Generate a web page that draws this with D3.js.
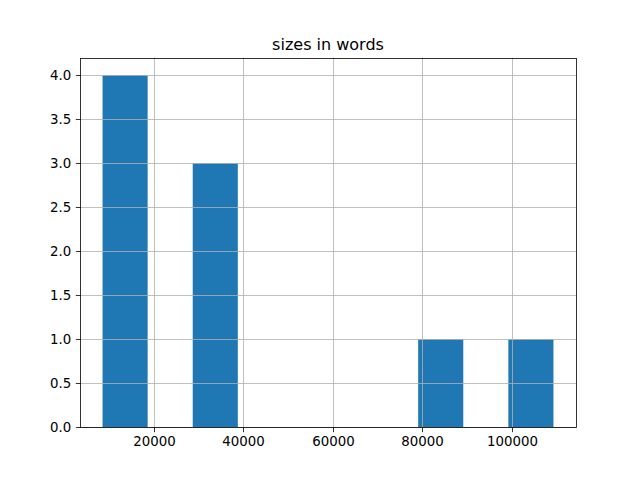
<!DOCTYPE html>
<html>
<head>
<meta charset="utf-8">
<script src="https://cdn.jsdelivr.net/npm/d3@7"></script>
<style>
  body { margin: 0; background: #fff; }
  svg text { font-family: "DejaVu Sans", sans-serif; fill: #000; }
</style>
</head>
<body>
<div id="chart"></div>
<script>
// word counts per document
let sizes = [8565, 11200, 14300, 17800, 30500, 33400, 37100, 84200, 109327];
let numBins = 10;
let xTicks = [20000, 40000, 60000, 80000, 100000];
let yTicks = [0, 0.5, 1, 1.5, 2, 2.5, 3, 3.5, 4];
let title = "sizes in words";

let width = 640, height = 480;
let margin = {left: 80, right: 64, top: 57.6, bottom: 52.8};

let svg = d3.select("#chart").append("svg")
    .attr("width", width)
    .attr("height", height);

// equal-width bins between min and max, like matplotlib
let lo = d3.min(sizes), hi = d3.max(sizes);
let step = (hi - lo) / numBins;
let edges = d3.range(numBins + 1).map(function(i){ return lo + i * step; });
let bins = d3.bin().domain([lo, hi]).thresholds(edges.slice(1, -1))(sizes);

let pad = (hi - lo) * 0.05;
let x = d3.scaleLinear().domain([lo - pad, hi + pad]).range([margin.left, width - margin.right]);
let yMax = d3.max(bins, function(b){ return b.length; }) * 1.05;
let y = d3.scaleLinear().domain([0, yMax]).range([height - margin.bottom, margin.top]);

// bars
svg.append("g").selectAll("rect")
    .data(bins.filter(function(b){ return b.length > 0; })).enter()
    .append("rect")
        .attr("x", function(d){ return x(d.x0); })
        .attr("y", function(d){ return y(d.length); })
        .attr("width", function(d){ return x(d.x1) - x(d.x0); })
        .attr("height", function(d){ return y(0) - y(d.length); })
        .attr("fill", "#1f77b4");

// grid (drawn above the bars, as matplotlib does)
let grid = svg.append("g").attr("stroke", "#b0b0b0").attr("stroke-width", 0.8);
xTicks.forEach(function(t){
    let px = Math.round(x(t)) + 0.5;
    grid.append("line").attr("x1", px).attr("x2", px)
        .attr("y1", margin.top).attr("y2", height - margin.bottom);
});
yTicks.forEach(function(t){
    let py = Math.round(y(t)) + 0.5;
    grid.append("line").attr("y1", py).attr("y2", py)
        .attr("x1", margin.left).attr("x2", width - margin.right);
});

// axes
let xAxis = svg.append("g")
    .attr("transform", "translate(0," + (Math.round(y(0)) + 0.5) + ")")
    .call(d3.axisBottom(x).tickValues(xTicks).tickFormat(d3.format("d")).tickSize(4.67).tickPadding(4.67));
let yAxis = svg.append("g")
    .attr("transform", "translate(" + (Math.round(margin.left) + 0.5) + ",0)")
    .call(d3.axisLeft(y).tickValues(yTicks).tickFormat(d3.format(".1f")).tickSize(4.67).tickPadding(4.67));

[xAxis, yAxis].forEach(function(ax){
    ax.select(".domain").remove();
    ax.selectAll(".tick line").attr("stroke", "#000").attr("stroke-width", 0.8);
    ax.selectAll(".tick text").attr("font-size", 13.33).attr("font-family", "DejaVu Sans");
});
xAxis.selectAll(".tick").attr("transform", function(d){ return "translate(" + (Math.round(x(d)) + 0.5) + ",0)"; });
yAxis.selectAll(".tick").attr("transform", function(d){ return "translate(0," + (Math.round(y(d)) + 0.5) + ")"; });

// frame
svg.append("rect")
    .attr("x", Math.round(margin.left) + 0.5)
    .attr("y", Math.round(margin.top) + 0.5)
    .attr("width", Math.round(width - margin.right) - Math.round(margin.left))
    .attr("height", Math.round(height - margin.bottom) - Math.round(margin.top))
    .attr("fill", "none")
    .attr("stroke", "#000")
    .attr("stroke-width", 0.8);

svg.append("text")
    .attr("x", (margin.left + width - margin.right) / 2)
    .attr("y", margin.top - 8)
    .attr("text-anchor", "middle")
    .attr("font-size", 16)
    .text(title);
</script>
</body>
</html>
